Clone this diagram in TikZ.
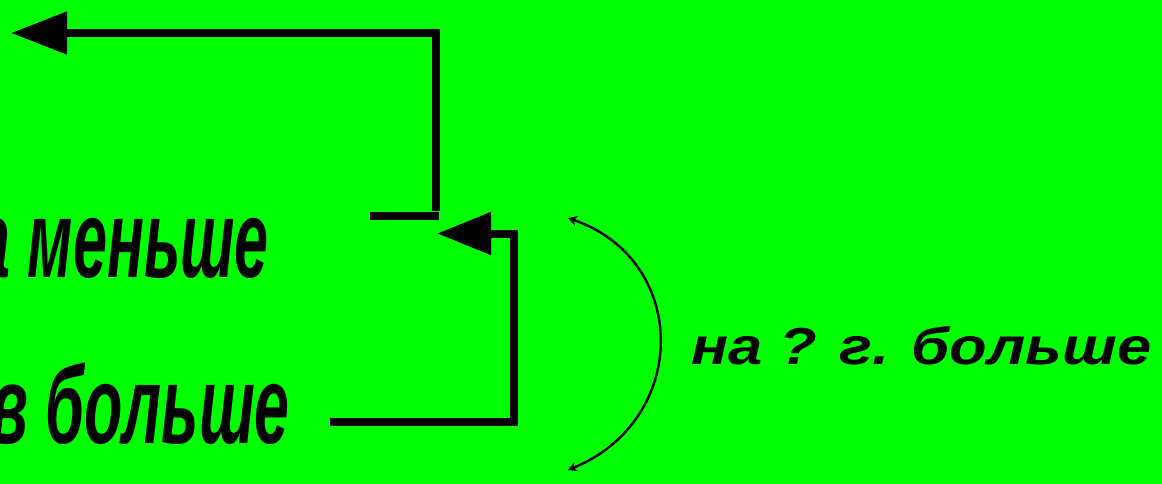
\documentclass[tikz,border=0pt]{standalone}
\usepackage{fontspec}
\setmainfont{Liberation Sans}
\usetikzlibrary{arrows.meta}
\definecolor{bggreen}{RGB}{0,255,0}
\tikzset{
  bracket/.style={line width=8pt, line join=miter, line cap=butt},
  bigarrow/.style={-{Triangle[length=56pt,width=41pt]}},
  bigtext/.style={inner sep=0pt, font=\fontsize{110}{120}\selectfont\bfseries\itshape},
  smalltext/.style={inner sep=0pt, font=\fontsize{52}{58}\selectfont\bfseries\itshape},
  thinarc/.style={line width=2.4pt, {Stealth[length=9pt,width=10pt]}-{Stealth[length=9pt,width=10pt]}}
}
\begin{document}
\begin{tikzpicture}[x=1pt,y=-1pt]
\fill[bggreen] (0,0) rectangle (1162,484);
\useasboundingbox (0,0) rectangle (1162,484);
\clip (0,0) rectangle (1162,484);
% texts
\node[bigtext, anchor=base east] (less) at (269,277) {\scalebox{0.556}[1]{а меньше}};
\node[bigtext, anchor=base east] (more) at (290,443) {\scalebox{0.57}[1]{в больше}};
\node[smalltext, anchor=base west] (diff) at (691,364) {\resizebox{460pt}{\height}{на ? г. больше}};
% coordinates
\coordinate (tA) at (11,33);
\coordinate (cA) at (435.5,33);
\coordinate (bA) at (435.5,211);
\coordinate (barL) at (370,215.5);
\coordinate (barR) at (439,215.5);
\coordinate (tB) at (437,233.5);
\coordinate (cB) at (514,233.5);
\coordinate (dB) at (514,422);
\coordinate (sB) at (330,422);
\coordinate (arcT) at (568,218);
\coordinate (arcB) at (568,470);
% top bracket
\draw[bracket, bigarrow] (bA) -- (cA) -- (tA);
\draw[bracket] (barL) -- (barR);
% lower bracket
\draw[bracket, -{Triangle[length=54pt,width=41pt]}] (sB) -- (dB) -- (cB) -- (tB);
% arc
\draw[thinarc] (arcT) .. controls (690,260) and (690,420) .. (arcB);
\end{tikzpicture}
\end{document}
